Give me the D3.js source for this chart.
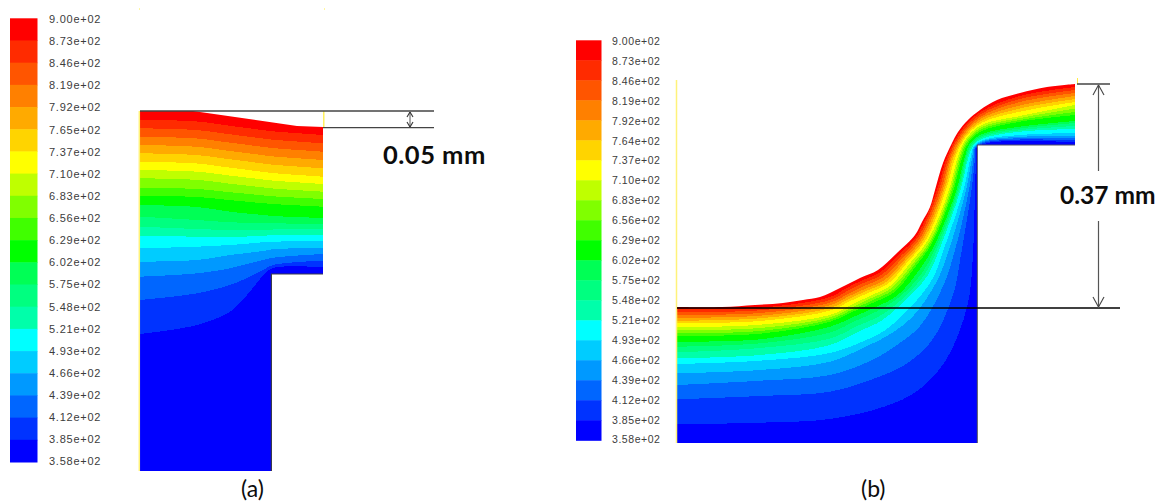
<!DOCTYPE html>
<html><head><meta charset="utf-8">
<script src="https://cdn.jsdelivr.net/npm/d3@7"></script>
<style>html,body{margin:0;padding:0;background:#fff;overflow:hidden}svg{display:block}</style>
</head><body><svg id="chart" width="1163" height="504"></svg>
<script>
// Contour band colours, hottest first
const bandColors = ["#ff0000","#ff2b00","#ff5500","#ff8000","#ffaa00","#ffd400","#ffff00","#bfff00","#80ff00","#40ff00","#00ff00","#00ff55","#00ff80","#00ffaa","#00ffff","#00ccff","#0099ff","#0066ff","#0033ff","#0000ff"];
const labelsA = ["9.00e+02","8.73e+02","8.46e+02","8.19e+02","7.92e+02","7.65e+02","7.37e+02","7.10e+02","6.83e+02","6.56e+02","6.29e+02","6.02e+02","5.75e+02","5.48e+02","5.21e+02","4.93e+02","4.66e+02","4.39e+02","4.12e+02","3.85e+02","3.58e+02"];
const labelsB = ["9.00e+02","8.73e+02","8.46e+02","8.19e+02","7.92e+02","7.64e+02","7.37e+02","7.10e+02","6.83e+02","6.56e+02","6.29e+02","6.02e+02","5.75e+02","5.48e+02","5.21e+02","4.93e+02","4.66e+02","4.39e+02","4.12e+02","3.85e+02","3.58e+02"];

// Panel (a): outline and isotherm depths at fixed columns
const surfaceA = [[0,0],[53,0],[157,15],[183,16]];
const lowerA = [[183,163],[131,163],[131,360],[0,360]];
const columnsA = [0,57,90,107,123,133,183];
const isothermsA = [
 [8.7,10.5,14.8,17,19.1,20.3,24],[17.3,19.1,23.3,25.5,27.5,28.7,32.3],[25.7,27.5,31.7,33.8,35.9,37.1,40.7],
 [34,35.8,40,42.1,44.2,45.4,49],[42.3,44.1,48.3,50.4,52.5,53.7,57.3],[50.7,52.5,56.7,58.8,60.9,62.1,65.7],
 [59,60.7,64.6,66.6,68.5,69.6,73],[67.3,68.9,72.7,74.6,76.4,77.5,80.7],[76.7,78,81.2,82.8,84.4,85.3,88],
 [84.7,86,89.1,90.7,92.2,93,95.7],[94,96,100.7,102.5,104,105,107],[105.7,109,111.3,111.7,112,112.3,113],
 [115.7,118,119,118.8,118.6,118.5,118.3],[124.7,125.7,126.3,125.5,124.7,124.3,124],[137.3,135.7,134,132.7,131.3,130.7,130],
 [150.7,149,144,142,140,138.3,136.7],[165.7,162.3,157.3,153,149,146.7,143],[189,182.3,174,167,159,154,149.7],
 [223,214,200.7,184,164.7,157,156.3]];

// Panel (b): free surface, then stations (origin, direction) with depth of each isotherm
const surfaceB = [[0,224],[45,224],[78,222],[106,220],[126,217],[143,214],[163,205],[183,195],[201,187],[220,170],[238,152],[245,139],[253,124],[258,107],[266,80],[275,60],[281,49],[291,37],[303,27],[320,17],[343,10],[370,4],[398,1]];
const lowerB = [[398,62],[300,62],[300,360],[0,360]];
const stationsB = [[0,224],[83,222],[153,211],[169,202],[183,195],[201,187],[220,170],[238,152],[258,107],[268,75],[281,49],[303,27],[343,10],[398,1]];
const directionsB = [[0,1],[0,1],[0,1],[.3,.95],[.45,.89],[.6,.8],[.8,.6],[.92,.39],[1,0],[1,0],[.74,.67],[.1,1],[0,1],[0,1]];
const depthsB = [
 [2.3,5,8,10.7,13.7,16.3,20.3,23.3,26.3,29,34.7,39.7,45.3,51.3,57,66.3,78,92.3,117.3],
 [2.7,5.3,8,10.7,13.3,16,19.7,23,26,28.7,34.3,38.3,43,50,55.7,65,75.7,91,117.7],
 [3,6,8.7,11.3,14,16.5,21,23.3,25.5,27.7,32.7,38.5,44.5,51,59,67.7,81,97.7,125],
 [3,6,9,11.5,14,16.5,20.5,23,25.3,27.5,32.5,37,42.5,48,59,65,80,98,128],
 [3,6,9,12,14.5,17,20.5,23,25.5,28,33,37.5,43,48,58,64,77,98,127],
 [3,6,9,12,14.5,17,20,22.5,25,27.5,32,34.5,38,41,50,58,70,89,113],
 [2.5,5,7.5,10,12,14,16.5,19,21,23,28,32,35,38,44,49,57,70,88],
 [2,4,6,8,10,12,14,16,17.5,19,22,24,26,28,32,37,43,50,62.7],
 [2,4,6,7.7,9.3,11,14,15.5,17,18.5,21.5,23,24.3,25.5,28.5,31,34,36.5,40],
 [1.7,3.4,5,6.6,8.2,10,12.5,14,15.5,17,19.5,20.7,22,23.2,25.5,27,28.5,30,31],
 [1.6,3.2,4.8,6.4,7.8,9.2,10.6,12,13.4,14.8,16.6,18,19.2,20.3,21.3,22.2,23,23.8,24.6],
 [2.2,4.4,6.6,8.8,11,13,15,17,19,21,24,25.5,27,28.5,30,31,32,33,34],
 [3,6,9,12.5,15.5,18.7,23,25,27,28.7,33.7,35.5,37.2,38.7,42,43.8,45.2,46.5,47.7],
 [3,6,9,12,15,18,21,24.5,28,31,37,39,42,45,49,52,54.5,56.5,58.5]];

const svg = d3.select("#chart");
const smooth = d3.curveCatmullRom.alpha(.5);

function legend(labels, x0, x1, yTop, yBottom, labelX, fontSize, spacing, yOffset){
  const band = d3.scaleBand().domain(d3.range(bandColors.length)).range([yTop,yBottom]);
  svg.append("g").selectAll("rect").data(bandColors).join("rect")
    .attr("x",x0).attr("width",x1-x0).attr("y",(d,i)=>band(i)).attr("height",band.bandwidth()+.5).attr("fill",d=>d);
  const tick = d3.scalePoint().domain(labels).range([yTop+yOffset,yBottom-yOffset]);
  const g = svg.append("g").attr("transform",`translate(${labelX},0)`)
    .call(d3.axisRight(tick).tickSize(0).tickPadding(0));
  g.select(".domain").remove();
  g.selectAll("text").attr("font-family","'Liberation Sans',Arial,sans-serif").attr("font-size",fontSize)
    .attr("letter-spacing",spacing).attr("fill","#3c3c3c");
}
legend(labelsA,10,37.5,18.3,462,49,11,.75,.7);
legend(labelsB,576,601.5,40.3,440.3,612,10.5,.55,.7);

function clip(id, surface, lower, curve, x, y){
  const top = d3.line().curve(curve).x(d=>x(d[0])).y(d=>y(d[1]))(surface);
  const rest = lower.map(d=>`L${x(d[0])},${y(d[1])}`).join("");
  svg.append("clipPath").attr("id",id).append("path").attr("d",top+rest+"Z");
}
function paint(id, curves, curve, x, y, depthMax){
  const g = svg.append("g").attr("clip-path",`url(#${id})`);
  g.append("rect").attr("x",x.range()[0]).attr("y",y.range()[0]).attr("width",x.range()[1]-x.range()[0]).attr("height",y.range()[1]-y.range()[0]).attr("fill",bandColors[0]);
  curves.forEach((c,i)=>{
    const line = d3.line().curve(curve).x(d=>x(d[0])).y(d=>y(d[1]));
    g.append("path").attr("fill",bandColors[i+1]).attr("shape-rendering","crispEdges")
      .attr("d",line(c)+`L${x(c[c.length-1][0])+2},${y(depthMax)}L${x(c[0][0])-2},${y(depthMax)}Z`);
  });
}

// Panel (a)
const xA = d3.scaleLinear().domain([0,183]).range([140,323]);
const yA = d3.scaleLinear().domain([0,360]).range([111,471]);
clip("clipA",surfaceA,lowerA,d3.curveLinear,xA,yA);
paint("clipA",isothermsA.map(r=>r.map((v,j)=>[columnsA[j],v])),smooth,xA,yA,360);

// Panel (b)
const xB = d3.scaleLinear().domain([0,398]).range([677,1075]);
const yB = d3.scaleLinear().domain([0,360]).range([83,443]);
clip("clipB",surfaceB,lowerB,smooth,xB,yB);
const isothermsB = d3.range(bandColors.length-1).map(i=>stationsB.map((s,k)=>[s[0]+directionsB[k][0]*depthsB[k][i],s[1]+directionsB[k][1]*depthsB[k][i]]));
paint("clipB",isothermsB,smooth,xB,yB,360);

// Outlines and annotations
function seg(x1,y1,x2,y2,color,w){svg.append("line").attr("x1",x1).attr("y1",y1).attr("x2",x2).attr("y2",y2).attr("stroke",color).attr("stroke-width",w);}
const yel="#fff27a", dark="#3a3a4a", ann="#444";
// (a)
seg(xA(0)-.7,yA(0),xA(0)-.7,yA(360),yel,1.5);
seg(xA(183)+.8,yA(0),xA(183)+.8,yA(16),"#ffee44",1.3);
seg(139,9,140,9,"#ffee44",1);
seg(324,9,325,9,"#ffee44",1);
seg(xA(131),yA(163),xA(183),yA(163),dark,1.2);
seg(xA(131)+.4,yA(163),xA(131)+.4,yA(360),dark,1.2);
seg(xA(0),yA(0),434,yA(0),ann,1.3);
seg(xA(183),yA(16)+.6,434,yA(16)+.6,ann,1.3);
seg(410,112,410,127,"#555",1);
[[410,112,1],[410,127,-1]].forEach(([x,y,s])=>{seg(x,y,x-3,y+5*s,"#333",1.1);seg(x,y,x+3,y+5*s,"#333",1.1);});
// (b)
seg(xB(0)-.5,80,xB(0)-.5,yB(360),yel,1.5);
seg(1077.5,78,1077.5,84,"#ffee44",1);
seg(xB(300),yB(62),xB(398),yB(62),"#555566",1);
seg(xB(300)+.3,yB(62),xB(300)+.3,yB(360),"#444455",1);
seg(xB(0),308,1120,308,"#000",1.3);
seg(1077,84,1110,84,ann,1.3);
seg(1098.5,85,1098.5,171,"#555",1.2);
seg(1098.5,221,1098.5,308,"#555",1.2);
[[1098.5,85,1],[1098.5,307,-1]].forEach(([x,y,s])=>{seg(x,y,x-5.5,y+10*s,"#444",1.1);seg(x,y,x+5.5,y+10*s,"#444",1.1);});

function text(x,y,t,size,weight,sp){svg.append("text").attr("x",x).attr("y",y).attr("font-family","Lato,'Open Sans',sans-serif").attr("font-size",size).attr("font-weight",weight).attr("letter-spacing",sp||0).attr("fill","#0c0c0c").text(t);}
text(383,164,"0.05 mm",25.5,700,.5);
text(1060,204,"0.37 mm",24.5,700);
text(241,497,"(a)",23,400);
text(861,497,"(b)",23,400);
</script></body></html>
